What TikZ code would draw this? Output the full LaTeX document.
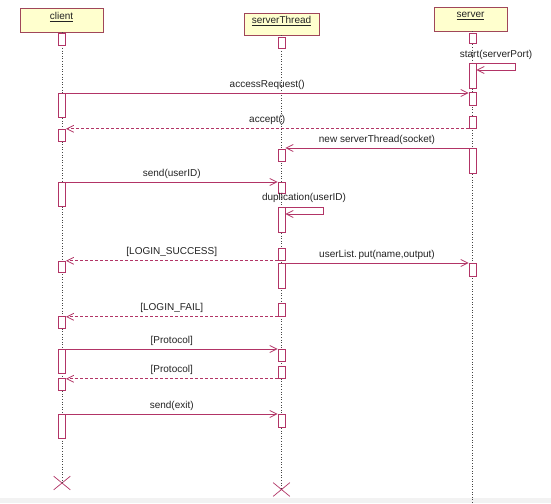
\documentclass[tikz,border=0pt]{standalone}
\usepackage{fontspec}
\setmainfont{Liberation Sans}
\usetikzlibrary{arrows.meta,shapes.misc}
\definecolor{lc}{RGB}{178,52,102}
\definecolor{hb}{RGB}{160,70,90}
\definecolor{hf}{RGB}{255,255,206}
\definecolor{tc}{RGB}{35,35,35}
\definecolor{lifec}{RGB}{70,70,70}
\definecolor{band}{RGB}{242,242,242}
\newcommand\actbar[4]{\node[act,anchor=north,minimum height={#4pt-#3pt}] (#1) at (#2,#3) {};}
\tikzset{
  hdr/.style={draw=hb,fill=hf,line width=0.8pt,inner sep=0pt},
  hdrtxt/.style={text=tc,font=\fontsize{10}{12}\selectfont,inner sep=0pt},
  act/.style={draw=lc,fill=white,line width=0.8pt,minimum width=7pt,inner sep=0pt},
  msg/.style={draw=lc,line width=0.8pt,-{Straight Barb[length=7pt,width=7pt]}},
  ret/.style={msg,dash pattern=on 3pt off 2pt},
  life/.style={draw=lifec,line width=0.8pt,dash pattern=on 1pt off 1.6pt},
  lbl/.style={text=tc,font=\fontsize{10}{12}\selectfont,inner sep=0pt,text height=7pt,text depth=2pt},
  endx/.style={draw=lc,cross out,line width=0.7pt,inner sep=0pt,minimum width=16pt,minimum height=13pt}
}
\begin{document}
\begin{tikzpicture}[x=1pt,y=-1pt]
\useasboundingbox (0,0) rectangle (551,503);
\fill[white] (0,0) rectangle (551,503);
\fill[band] (0,498) rectangle (551,503);
% headers
\node[hdr,minimum width=83pt,minimum height=24pt] (client) at (61.5,20) {};
\node[hdr,minimum width=75pt,minimum height=22pt] (thread) at (281.5,24) {};
\node[hdr,minimum width=73pt,minimum height=24pt] (server) at (470.5,19) {};
\node[hdrtxt] (clientt) at ([yshift=3pt]client.center) {\underline{client}};
\node[hdrtxt] (threadt) at ([yshift=3pt]thread.center) {\underline{serverThread}};
\node[hdrtxt] (servert) at ([yshift=3pt]server.center) {\underline{server}};
% destruction marks and lifelines
\node[endx] (cx) at (62,483) {};
\node[endx] (tx) at (281.5,489.5) {};
\coordinate (sx) at (472.5,503);
\draw[life] (cx |- client.south) -- (cx.center);
\draw[life] (tx |- thread.south) -- (tx.center);
\draw[life] (sx |- server.south) -- (sx);
% activation bars: client
\actbar{c1}{62}{33}{45}
\actbar{c2}{62}{93}{117}
\actbar{c3}{62}{129}{141}
\actbar{c4}{62}{182}{206}
\actbar{c5}{62}{261}{272}
\actbar{c6}{62}{316}{328}
\actbar{c7}{62}{349}{373}
\actbar{c8}{62}{378}{390}
\actbar{c9}{62}{414}{438}
% serverThread
\actbar{t1}{281.5}{37}{48}
\actbar{t2}{281.5}{149}{161}
\actbar{t3}{281.5}{182}{193}
\actbar{t4}{281.5}{207}{232}
\actbar{t5}{281.5}{248}{260}
\actbar{t6}{281.5}{263}{288}
\actbar{t7}{281.5}{303}{316}
\actbar{t8}{281.5}{349}{361}
\actbar{t9}{281.5}{366}{378}
\actbar{t10}{281.5}{414}{427}
% server
\actbar{s1}{472.5}{33}{43}
\actbar{s2}{472.5}{63}{88}
\actbar{s3}{472.5}{92}{105}
\actbar{s4}{472.5}{116}{128}
\actbar{s5}{472.5}{148}{173}
\actbar{s6}{472.5}{263}{276}
% messages
\coordinate (sp) at (515,70);
\draw[msg] (s2.north east) -| (sp) -- (s2.east |- sp);
\node[lbl] (spl) at (496,55) {start(serverPort)};
\draw[msg] (c2.north east) -- (s3.west |- c2.north east) node[lbl,midway,above=3.5pt] {accessRequest()};
\draw[ret] (s4.south west) -- (c3.east |- s4.south west) node[lbl,midway,above=3.5pt] {accept()};
\draw[msg] (s5.north west) -- (t2.east |- s5.north west) node[lbl,midway,above=3.5pt] {new serverThread(socket)};
\draw[msg] (c4.north east) -- (t3.west |- c4.north east) node[lbl,midway,above=3.5pt] {send(userID)};
\coordinate (dp) at (323,214);
\draw[msg] (t4.north east) -| (dp) -- (t4.east |- dp);
\node[lbl] (dpl) at (304,198) {duplication(userID)};
\draw[ret] (t5.south west) -- (c5.east |- t5.south west) node[lbl,midway,above=3.5pt] {[LOGIN\_SUCCESS]};
\draw[msg] (t6.north east) -- (s6.west |- t6.north east) node[lbl,midway,above=3.5pt] {userList.\,put(name,output)};
\draw[ret] (t7.south west) -- (c6.east |- t7.south west) node[lbl,midway,above=3.5pt] {[LOGIN\_FAIL]};
\draw[msg] (c7.north east) -- (t8.west |- c7.north east) node[lbl,midway,above=3.5pt] {[Protocol]};
\draw[ret] (t9.south west) -- (c8.east |- t9.south west) node[lbl,midway,above=3.5pt] {[Protocol]};
\draw[msg] (c9.north east) -- (t10.west |- c9.north east) node[lbl,midway,above=3.5pt] {send(exit)};
\end{tikzpicture}
\end{document}
